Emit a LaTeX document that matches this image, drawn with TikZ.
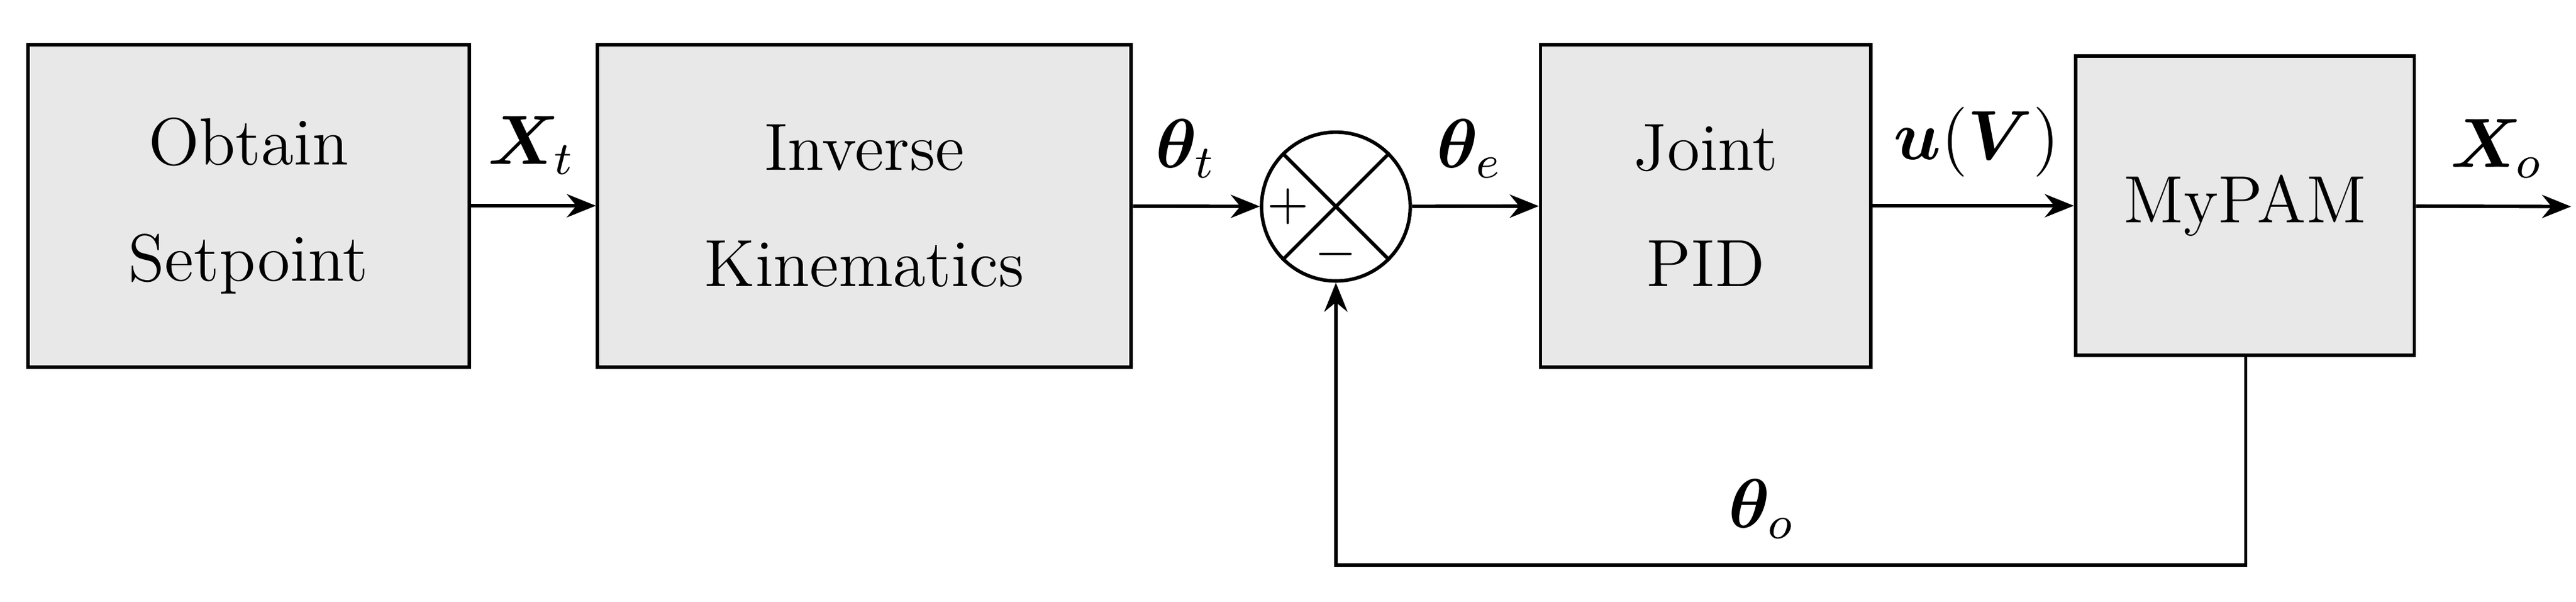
\documentclass[tikz,border=0pt]{standalone}
\usepackage{amsmath,bm}
\usetikzlibrary{arrows.meta}
\begin{document}
\begin{tikzpicture}[x=0.01cm,y=-0.01cm,
  blk/.style={draw,fill=black!9,line width=0.6pt,inner sep=0pt,align=center,font=\fontsize{11.5}{20}\selectfont},
  arr/.style={-{Stealth[length=5pt,width=4pt]},line width=0.6pt},
  lbl/.style={font=\fontsize{11.5}{14}\selectfont}]
\useasboundingbox (0,0) rectangle (1560,364);
\node[blk,minimum width=2.67cm,minimum height=1.95cm] (a) at (150.5,124.5) {Obtain\\Setpoint};
\node[blk,minimum width=3.23cm,minimum height=1.95cm] (b) at (523.5,124.5) {Inverse\\Kinematics};
\node[draw,circle,minimum size=0.9cm,inner sep=0pt,line width=0.6pt] (s) at (809,125) {};
\draw[line width=0.6pt] (s.north west)--(s.south east) (s.north east)--(s.south west);
\node[lbl,font=\fontsize{9}{10}\selectfont] at (780,125) {$+$};
\node[lbl,font=\fontsize{9}{10}\selectfont] at (809,154) {$-$};
\node[blk,minimum width=2.0cm,minimum height=1.95cm] (c) at (1033,124.5) {Joint\\PID};
\node[blk,minimum width=2.05cm,minimum height=1.81cm] (d) at (1359.5,124.5) {MyPAM};
\coordinate (o) at (1557,125);
\coordinate (f1) at (1360,342);
\coordinate (f2) at (809,342);
\draw[arr] (a) -- (b);
\draw[arr] (b) -- (s);
\draw[arr] (s) -- (c);
\draw[arr] (c) -- (d);
\draw[arr] (d) -- (o);
\draw[arr] (d.south -| f1) -- (f1) -- (f2) -- (s.south);
\node[lbl] at (322,88) {$\bm{X}_t$};
\node[lbl] at (718,90) {$\bm{\theta}_t$};
\node[lbl] at (890,90) {$\bm{\theta}_e$};
\node[lbl] at (1197,86) {$\bm{u}(\bm{V})$};
\node[lbl] at (1512,90) {$\bm{X}_o$};
\node[lbl] at (1067,308) {$\bm{\theta}_o$};
\end{tikzpicture}
\end{document}
